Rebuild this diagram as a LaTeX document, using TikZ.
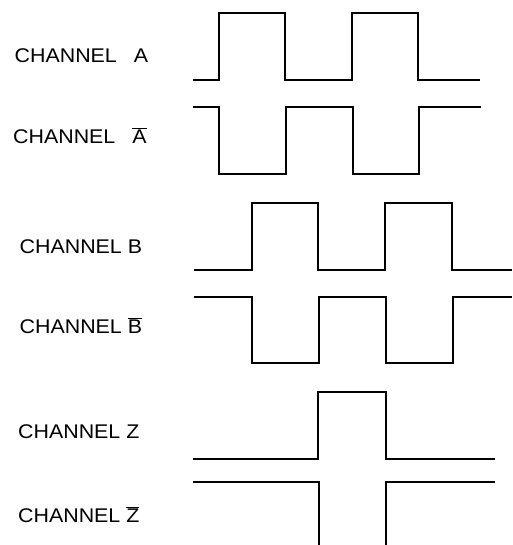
\documentclass[tikz,border=0pt]{standalone}
\usepackage{fontspec}
\usepackage{graphicx}
\setmainfont{Liberation Sans}
\newcommand\ovl[1]{\ensuremath{\overline{\mbox{#1}}}}
\newcommand\chlabel[1]{\scalebox{1.08}[1]{\fontsize{19.8}{22}\selectfont #1}}
\tikzset{
  lbl/.style={anchor=base west, inner sep=0pt},
  wave/.style={line width=1.8pt, line join=miter}
}
\begin{document}
\begin{tikzpicture}[x=1pt,y=-1pt]
\useasboundingbox (0,0) rectangle (512,545);
% labels
\node[lbl] (la)  at (14.5,62.3)  {\chlabel{CHANNEL\hspace{0.8em}A}};
\node[lbl] (lan) at (13,143.3)   {\chlabel{CHANNEL\hspace{0.8em}\ovl{A}}};
\node[lbl] (lb)  at (19.5,253.3) {\chlabel{CHANNEL B}};
\node[lbl] (lbn) at (19.5,333.3) {\chlabel{CHANNEL \ovl{B}}};
\node[lbl] (lz)  at (18,438.3)   {\chlabel{CHANNEL Z}};
\node[lbl] (lzn) at (18,522.7)   {\chlabel{CHANNEL \ovl{Z}}};
% channel A
\draw[wave] (193,80) -- (219,80) -- (219,13.3) -- (285,13.3) -- (285,80)
  -- (352,80) -- (352,13.3) -- (418,13.3) -- (418,80) -- (480,80);
% channel A bar
\draw[wave] (193,107.3) -- (219,107.3) -- (219,174) -- (286,174) -- (286,107.3)
  -- (352.7,107.3) -- (352.7,174) -- (419,174) -- (419,107.3) -- (481,107.3);
% channel B
\draw[wave] (194,270) -- (252,270) -- (252,203.3) -- (318,203.3) -- (318,270)
  -- (385,270) -- (385,203.3) -- (452,203.3) -- (452,270) -- (512,270);
% channel B bar
\draw[wave] (194,297.3) -- (252.3,297.3) -- (252.3,363.3) -- (318.7,363.3) -- (318.7,297.3)
  -- (386,297.3) -- (386,363.3) -- (452.7,363.3) -- (452.7,297.3) -- (512,297.3);
% channel Z
\draw[wave] (193,458.7) -- (318.3,458.7) -- (318.3,392.3) -- (385.7,392.3) -- (385.7,458.7)
  -- (495,458.7);
% channel Z bar
\draw[wave] (193,481.7) -- (318.7,481.7) -- (318.7,546);
\draw[wave] (385.7,546) -- (385.7,481.7) -- (495,481.7);
\end{tikzpicture}
\end{document}
